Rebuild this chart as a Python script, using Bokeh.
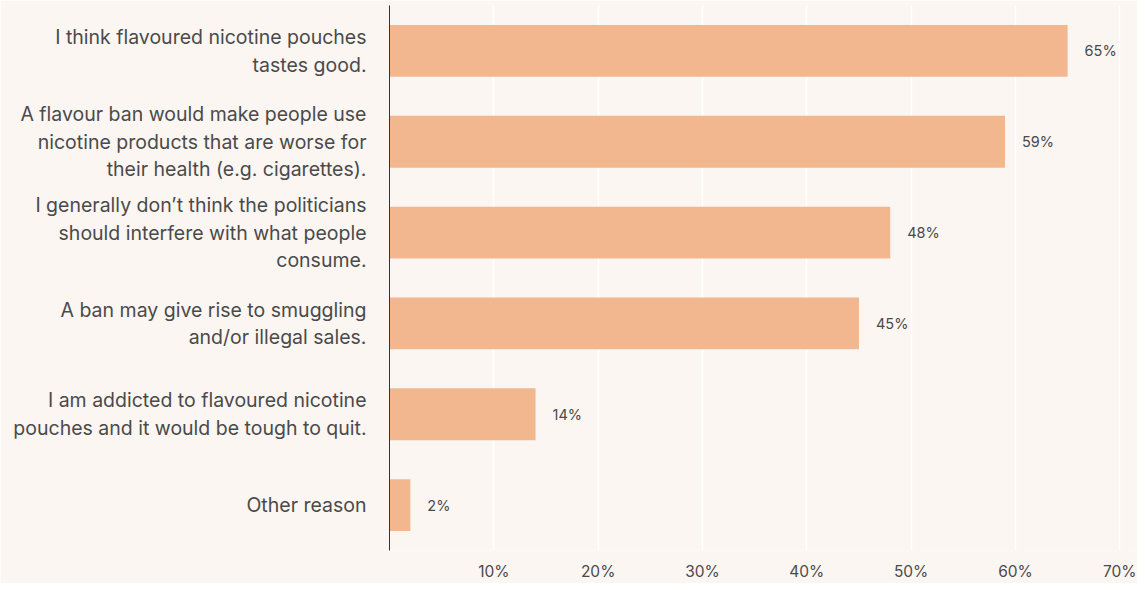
from bokeh.plotting import figure
from bokeh.models import ColumnDataSource, FixedTicker, CustomJSTickFormatter, Range1d
from bokeh.core.properties import value
from bokeh.embed import file_html
from bokeh.resources import INLINE

categories = [
    "I think flavoured nicotine pouches\ntastes good.",
    "A flavour ban would make people use\nnicotine products that are worse for\ntheir health (e.g. cigarettes).",
    "I generally don\u2019t think the politicians\nshould interfere with what people\nconsume.",
    "A ban may give rise to smuggling\nand/or illegal sales.",
    "I am addicted to flavoured nicotine\npouches and it would be tough to quit.",
    "Other reason",
]
values = [65, 59, 48, 45, 14, 2]
tick_values = [10, 20, 30, 40, 50, 60, 70]

BG = "#fbf6f2"
BAR = "#f2b78e"
TXT = "#4a4a4a"
FONT = "Inter"

src = ColumnDataSource(dict(cat=categories, val=values,
                            lab=[f"{v}%" for v in values]))

p = figure(y_range=list(reversed(categories)), x_range=Range1d(0, 71.7),
           width=1137, height=583, output_backend="svg", toolbar_location=None,
           min_border_left=389, min_border_right=0, min_border_top=5,
           min_border_bottom=28)
p.background_fill_color = BG
p.border_fill_color = BG
p.outline_line_color = None

p.hbar(y="cat", right="val", left=0, height=0.57, source=src,
       fill_color=BAR, line_color=None)
p.text(x="val", y="cat", text="lab", source=src, x_offset=17,
       text_baseline="middle", text_align="left", text_color=TXT,
       text_font=value(FONT), text_font_size="14.5px")

p.ygrid.grid_line_color = None
p.xgrid.grid_line_color = "#ffffff"
p.xgrid.grid_line_width = 1.5
p.xgrid.ticker = FixedTicker(ticks=tick_values)

p.xaxis.ticker = FixedTicker(ticks=tick_values)
p.xaxis.formatter = CustomJSTickFormatter(code="return tick + '%';")
p.xaxis.axis_line_color = None
p.xaxis.major_tick_line_color = None
p.xaxis.minor_tick_line_color = None
p.xaxis.major_label_text_font = FONT
p.xaxis.major_label_text_font_size = "15.5px"
p.xaxis.major_label_text_color = TXT
p.xaxis.major_label_standoff = 5

p.yaxis.axis_line_color = "#333333"
p.yaxis.axis_line_width = 1
p.yaxis.major_tick_line_color = None
p.yaxis.minor_tick_line_color = None
p.yaxis.major_label_text_font = FONT
p.yaxis.major_label_text_font_size = "19.5px"
p.yaxis.major_label_text_color = TXT
p.yaxis.major_label_text_line_height = 1.15
p.yaxis.major_label_standoff = 17

open("out.html", "w").write(file_html(p, INLINE))
